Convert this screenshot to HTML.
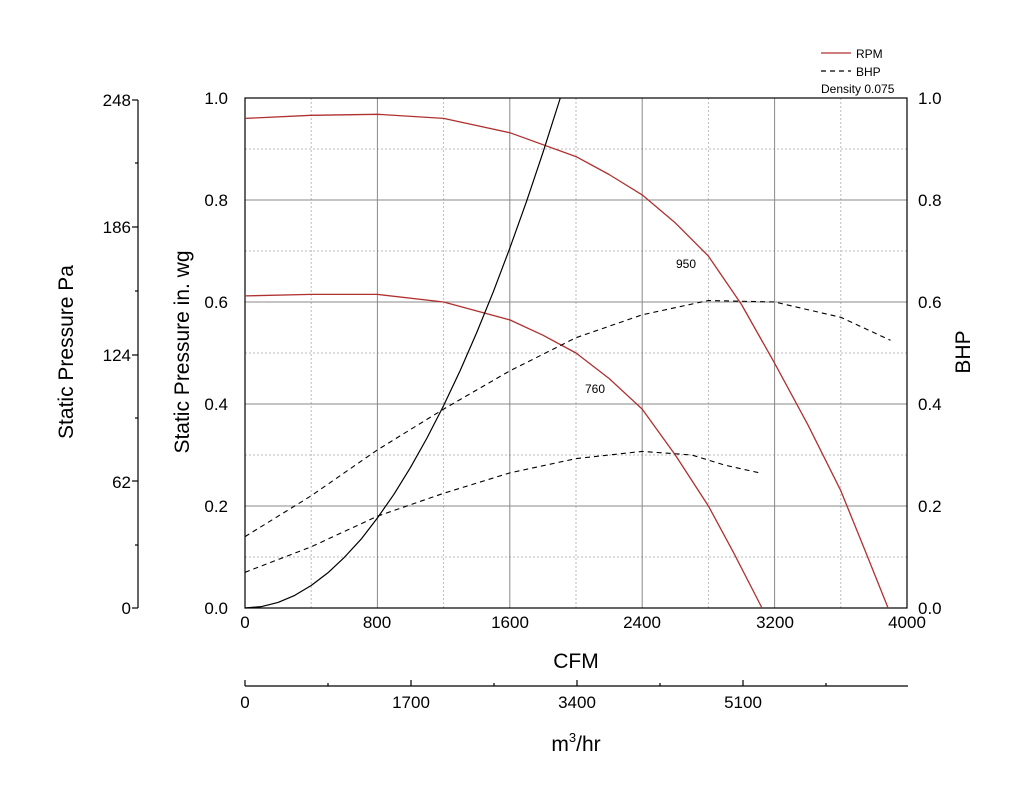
<!DOCTYPE html>
<html><head><meta charset="utf-8"><style>
body{margin:0;background:#fff;}
svg{display:block;font-family:"Liberation Sans",Arial,sans-serif;}
</style></head><body>
<svg width="1024" height="788" viewBox="0 0 1024 788" xmlns="http://www.w3.org/2000/svg">
<rect width="1024" height="788" fill="#fff"/>
<g stroke="#bbb" stroke-width="1" stroke-dasharray="2,2">
<line x1="311.2" y1="98" x2="311.2" y2="608"/><line x1="443.6" y1="98" x2="443.6" y2="608"/>
<line x1="576" y1="98" x2="576" y2="608"/><line x1="708.4" y1="98" x2="708.4" y2="608"/>
<line x1="840.8" y1="98" x2="840.8" y2="608"/>
<line x1="245" y1="557" x2="907" y2="557"/><line x1="245" y1="455" x2="907" y2="455"/>
<line x1="245" y1="353" x2="907" y2="353"/><line x1="245" y1="251" x2="907" y2="251"/>
<line x1="245" y1="149" x2="907" y2="149"/>
</g>
<g stroke="#888" stroke-width="1">
<line x1="377.4" y1="98" x2="377.4" y2="608"/><line x1="509.8" y1="98" x2="509.8" y2="608"/>
<line x1="642.2" y1="98" x2="642.2" y2="608"/><line x1="774.6" y1="98" x2="774.6" y2="608"/>
<line x1="245" y1="506" x2="907" y2="506"/><line x1="245" y1="404" x2="907" y2="404"/>
<line x1="245" y1="302" x2="907" y2="302"/><line x1="245" y1="200" x2="907" y2="200"/>
</g>
<rect x="245" y="98" width="662" height="510" fill="none" stroke="#000" stroke-width="1.2"/>
<g fill="none" stroke-linejoin="round">
<polyline stroke="#b03030" stroke-width="1.3" points="245,118.4 311.2,115.3 377.4,114.3 443.6,118.4 509.8,132.7 576,156.6 609.1,174.5 642.2,194.9 675.3,222.9 708.4,256.1 741.5,304.5 774.6,363.2 807.7,424.4 840.8,490.7 865.6,551.9 888.1,608"/>
<polyline stroke="#b03030" stroke-width="1.3" points="245,295.9 311.2,294.4 377.4,294.4 443.6,302 509.8,319.9 542.9,335.2 576,353 609.1,378.5 642.2,409.1 675.3,455 708.4,506 733.2,551.9 762,608"/>
<polyline stroke="#000" stroke-width="1.2" points="245,608 261.6,606.6 278.1,602.4 294.7,595.4 311.2,585.5 327.8,572.9 344.3,557.4 361.1,539.2 377.4,518 394,494.2 410.5,467.4 427,438 443.6,405.6 460.2,370.5 476.7,332.6 493.3,291.8 509.8,248.2 526.4,201.8 542.9,152.7 560.3,98"/>
<polyline stroke="#000" stroke-width="1.1" stroke-dasharray="5,4" points="245,536.6 311.2,495.8 377.4,449.9 443.6,409.1 509.8,370.9 576,337.7 642.2,314.8 708.4,300.5 774.6,302 840.8,317.3 890.5,340.3"/>
<polyline stroke="#000" stroke-width="1.1" stroke-dasharray="5,4" points="245,572.3 311.2,546.8 377.4,516.2 443.6,493.3 509.8,472.9 576,458.6 642.2,451.4 691.9,455 725,465.2 759.7,472.9"/>
</g>
<g font-size="17" fill="#000">
<text x="228" y="104" text-anchor="end">1.0</text>
<text x="228" y="206" text-anchor="end">0.8</text>
<text x="228" y="308" text-anchor="end">0.6</text>
<text x="228" y="410" text-anchor="end">0.4</text>
<text x="228" y="512" text-anchor="end">0.2</text>
<text x="228" y="614" text-anchor="end">0.0</text>
<text x="918" y="104">1.0</text>
<text x="918" y="206">0.8</text>
<text x="918" y="308">0.6</text>
<text x="918" y="410">0.4</text>
<text x="918" y="512">0.2</text>
<text x="918" y="614">0.0</text>
<text x="245" y="628" text-anchor="middle">0</text>
<text x="377" y="628" text-anchor="middle">800</text>
<text x="510" y="628" text-anchor="middle">1600</text>
<text x="642" y="628" text-anchor="middle">2400</text>
<text x="775" y="628" text-anchor="middle">3200</text>
<text x="907" y="628" text-anchor="middle">4000</text>
<text x="245" y="708" text-anchor="middle">0</text>
<text x="411" y="708" text-anchor="middle">1700</text>
<text x="577" y="708" text-anchor="middle">3400</text>
<text x="743" y="708" text-anchor="middle">5100</text>
<text x="131" y="106" text-anchor="end">248</text>
<text x="131" y="233" text-anchor="end">186</text>
<text x="131" y="361" text-anchor="end">124</text>
<text x="131" y="488" text-anchor="end">62</text>
<text x="131" y="614" text-anchor="end">0</text>
</g>
<g font-size="21" fill="#000">
<text x="576" y="668" text-anchor="middle">CFM</text>
<text x="576" y="751" text-anchor="middle">m<tspan font-size="13" dy="-9">3</tspan><tspan dy="9">/hr</tspan></text>
<text transform="translate(189,352) rotate(-90)" text-anchor="middle">Static Pressure in. wg</text>
<text transform="translate(73,352) rotate(-90)" text-anchor="middle">Static Pressure Pa</text>
<text transform="translate(970,352) rotate(-90)" text-anchor="middle">BHP</text>
</g>
<g stroke="#000" stroke-width="1.2">
<line x1="138" y1="100" x2="138" y2="608"/>
<line x1="132" y1="100" x2="138" y2="100"/><line x1="132" y1="227" x2="138" y2="227"/>
<line x1="132" y1="355" x2="138" y2="355"/><line x1="132" y1="481" x2="138" y2="481"/>
<line x1="132" y1="608" x2="138" y2="608"/>
<line x1="135" y1="163" x2="138" y2="163"/><line x1="135" y1="291" x2="138" y2="291"/>
<line x1="135" y1="418" x2="138" y2="418"/><line x1="135" y1="545" x2="138" y2="545"/>
<line x1="245" y1="686" x2="908" y2="686"/>
<line x1="245" y1="680" x2="245" y2="686"/><line x1="411" y1="680" x2="411" y2="686"/>
<line x1="577" y1="680" x2="577" y2="686"/><line x1="743" y1="680" x2="743" y2="686"/>
<line x1="328" y1="683" x2="328" y2="686"/><line x1="494" y1="683" x2="494" y2="686"/>
<line x1="660" y1="683" x2="660" y2="686"/><line x1="826" y1="683" x2="826" y2="686"/>
</g>
<g font-size="12" fill="#000">
<text x="676" y="268">950</text>
<text x="585" y="393">760</text>
<line x1="821" y1="53" x2="851" y2="53" stroke="#b03030" stroke-width="1.2"/>
<text x="856" y="58">RPM</text>
<line x1="821" y1="71" x2="851" y2="71" stroke="#000" stroke-width="1.2" stroke-dasharray="5,4"/>
<text x="856" y="76">BHP</text>
<text x="821" y="93">Density 0.075</text>
</g>
</svg>
</body></html>
